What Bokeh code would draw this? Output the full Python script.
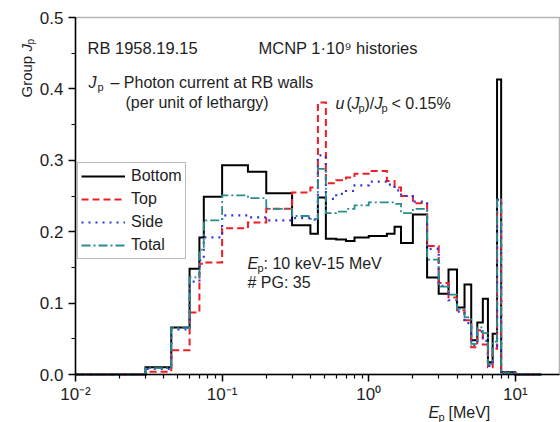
import math
from bokeh.plotting import figure
from bokeh.models import (Label, Legend, LegendItem, FixedTicker, SingleIntervalTicker,
                          CustomJSTickFormatter, PrintfTickFormatter, Range1d, BoxAnnotation)
from bokeh.embed import file_html
from bokeh.resources import INLINE

# ---------------- data ----------------
edges = [0.01, 0.02, 0.03, 0.045, 0.06, 0.07, 0.075, 0.1, 0.15, 0.2, 0.3, 0.4, 0.45,
         0.51, 0.6, 0.7, 0.8, 1.0, 1.33, 1.5, 1.66, 2.0, 2.5, 3.0, 3.5, 4.0, 4.5, 5.0,
         5.5, 6.0, 6.5, 7.0, 7.5, 8.0, 10.0, 15.0]

bottom = [0.0, 0.0, 0.010, 0.066, 0.148, 0.192, 0.249, 0.293, 0.284, 0.254, 0.209, 0.197,
          0.248, 0.190, 0.189, 0.187, 0.192, 0.194, 0.197, 0.207, 0.184, 0.224, 0.136,
          0.113, 0.147, 0.094, 0.126, 0.048, 0.073, 0.106, 0.017, 0.057, 0.413, 0.003, 0.0]
top = [0.0, 0.0, 0.004, 0.034, 0.087, 0.155, 0.157, 0.205, 0.213, 0.232, 0.255, 0.262,
       0.381, 0.268, 0.272, 0.276, 0.281, 0.285, 0.271, 0.262, 0.250, 0.240, 0.180,
       0.128, 0.108, 0.090, 0.076, 0.038, 0.062, 0.042, 0.010, 0.036, 0.245, 0.002, 0.0]
side = [0.0, 0.0, 0.008, 0.063, 0.130, 0.160, 0.192, 0.223, 0.220, 0.216, 0.219, 0.217,
        0.307, 0.246, 0.253, 0.257, 0.265, 0.270, 0.266, 0.258, 0.250, 0.242, 0.176,
        0.124, 0.104, 0.088, 0.072, 0.041, 0.060, 0.047, 0.012, 0.040, 0.245, 0.002, 0.0]
total = [0.0, 0.0, 0.009, 0.065, 0.136, 0.175, 0.216, 0.251, 0.247, 0.232, 0.222, 0.218,
         0.288, 0.226, 0.228, 0.232, 0.237, 0.241, 0.241, 0.239, 0.226, 0.232, 0.161,
         0.123, 0.112, 0.092, 0.080, 0.043, 0.066, 0.058, 0.015, 0.046, 0.245, 0.002, 0.0]

series_names = ["Bottom", "Top", "Side", "Total"]
x_tick_values = [0.01, 0.1, 1.0, 10.0]
y_tick_interval = 0.1

# ---------------- geometry ----------------
FONT = "Liberation Sans"
TXT = "#1e1e1e"
W, H = 560, 422
FL, FR, FT, FB = 75, 559, 17, 374   # axes box edges in page pixels
XMIN, XMAX, YMIN, YMAX = 0.01, 20.0, 0.0, 0.5
LX0, LX1 = math.log10(XMIN), math.log10(XMAX)


def dx(px):
    return 10 ** (LX0 + (px - FL) / (FR - FL) * (LX1 - LX0))


def dy(py):
    return YMIN + (YMAX - YMIN) * (FB - py) / (FB - FT)


# the frame spans the whole canvas; axes are pinned at the data limits
p = figure(width=W, height=H, x_axis_type="log",
           x_range=Range1d(dx(0), dx(W)), y_range=Range1d(dy(H), dy(0)),
           output_backend="svg", toolbar_location=None, min_border=0)
p.grid.visible = False
p.outline_line_color = None
p.background_fill_color = "white"
p.border_fill_color = "white"

styles = [
    ("black", "solid", 2.0),
    ("#ee1c25", "7 4", 2.0),
    ("#2f36e0", "2 5", 2.2),
    ("#2b8c8c", "9 3 2 3", 1.8),
]

items = []
for name, vals, (col, dash, lw) in zip(series_names, [bottom, top, side, total], styles):
    r = p.step(x=edges, y=list(vals) + [vals[-1]], mode="after",
               line_color=col, line_dash=dash, line_width=lw, line_join="miter")
    items.append(LegendItem(label=name, renderers=[r]))

p.add_layout(BoxAnnotation(left=XMIN, right=XMAX, bottom=YMIN, top=YMAX,
                           fill_color=None, line_color="black", line_width=1.5))

legend = Legend(items=items, location=(77, H - 259), border_line_color="#777777",
                border_line_width=1, background_fill_color="white", background_fill_alpha=1,
                label_text_font=FONT, label_text_font_size="16px", label_text_color=TXT,
                glyph_width=44, glyph_height=20, label_height=20, label_standoff=6,
                padding=3, spacing=3, margin=0)
p.add_layout(legend)

# axes
minor = [m * 10.0 ** k for k in (-2, -1, 0) for m in range(2, 10)]
p.xaxis.ticker = FixedTicker(ticks=x_tick_values, minor_ticks=minor)
p.xaxis.formatter = CustomJSTickFormatter(code="""
const sup = {'-':'\u207b','0':'\u2070','1':'\u00b9','2':'\u00b2','3':'\u00b3'};
const e = Math.round(Math.log10(tick));
return '10' + String(e).split('').map(c => sup[c]).join('');
""")
p.xaxis.fixed_location = YMIN
p.xaxis.bounds = (XMIN, XMAX)
p.yaxis.ticker = SingleIntervalTicker(interval=y_tick_interval, num_minor_ticks=2)
p.yaxis.formatter = PrintfTickFormatter(format="%.1f")
p.yaxis.fixed_location = XMIN
p.yaxis.bounds = (YMIN, YMAX)
for ax in (p.xaxis[0], p.yaxis[0]):
    ax.axis_line_width = 1.5
    ax.major_tick_line_width = 1.5
    ax.minor_tick_line_width = 1.2
    ax.major_tick_out = 7
    ax.major_tick_in = 0
    ax.minor_tick_out = 4
    ax.minor_tick_in = 0
    ax.major_label_text_font = FONT
    ax.major_label_text_font_size = "17px"
    ax.major_label_text_color = TXT
p.yaxis.major_label_standoff = 5
p.xaxis.major_label_standoff = 3


# ---------------- annotations (page-pixel placement) ----------------
def lab(px, py, text, size=16, style="normal", angle=0.0):
    p.add_layout(Label(x=dx(px), y=dy(py), text=text, text_font=FONT,
                       text_font_size=f"{size}px", text_font_style=style,
                       text_align="left", text_baseline="alphabetic",
                       text_color=TXT, angle=angle))


lab(87, 47, "RB 1958.19.15", size=16.5)
lab(258, 47, "MCNP 1\u00b710\u2079 histories", size=16.5)

lab(88, 82, "J", style="italic")
lab(97, 86, "p", size=11)
lab(110, 82, "\u2013 Photon current at RB walls")
lab(125, 102, "(per unit of lethargy)")

lab(335, 103, "u", style="italic")
lab(346, 103, "(")
lab(351, 103, "J", style="italic")
lab(358, 107, "p", size=11)
lab(364, 103, ")/")
lab(374, 103, "J", style="italic")
lab(381, 107, "p", size=11)
lab(391, 103, "< 0.15%")

lab(247, 263, "E", style="italic")
lab(257, 267, "p", size=11)
lab(263, 263, ": 10 keV-15 MeV")
lab(247, 282, "# PG: 35")

# x axis title
lab(428, 412, "E", style="italic")
lab(438, 416, "p", size=11)
lab(448, 412, "[MeV]")

# y axis title (rotated)
lab(26, 97, "Group", size=15, angle=math.pi / 2)
lab(26, 51, "J", size=15, style="italic", angle=math.pi / 2)
lab(30, 44, "p", size=10, angle=math.pi / 2)

open("out.html", "w").write(file_html(p, INLINE))
